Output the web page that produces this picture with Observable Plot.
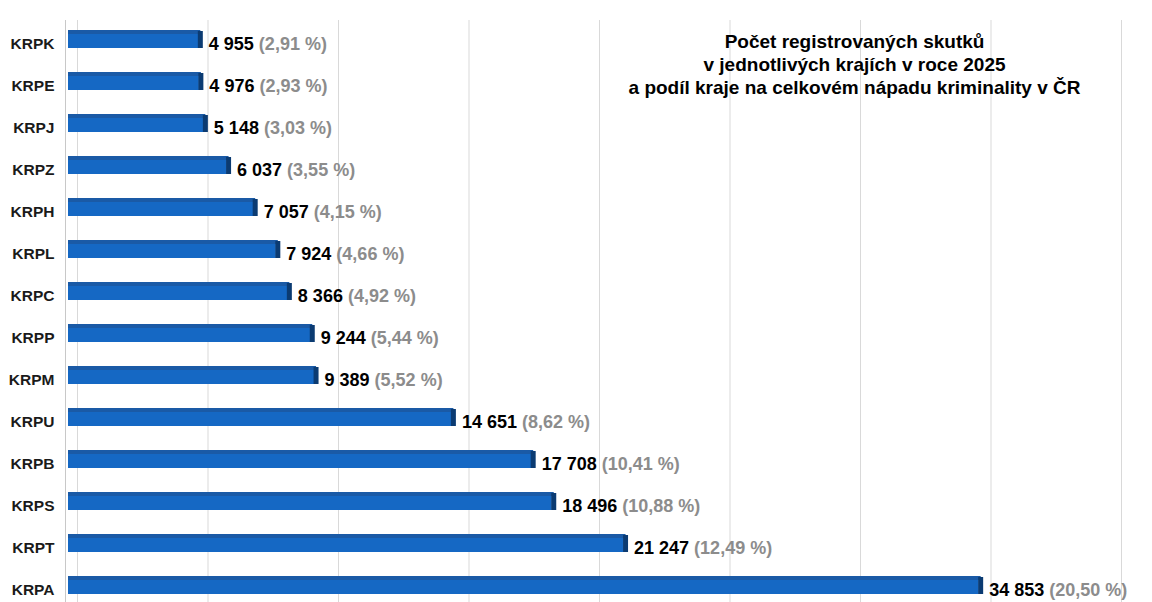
<!DOCTYPE html>
<html><head><meta charset="utf-8">
<script src="https://cdn.jsdelivr.net/npm/d3@7"></script>
<script src="https://cdn.jsdelivr.net/npm/@observablehq/plot@0.6"></script>
<style>body{margin:0;background:#fff;} #chart svg{display:block;}</style>
</head><body><div id="chart"></div>
<script>
const regions = ["KRPK","KRPE","KRPJ","KRPZ","KRPH","KRPL","KRPC","KRPP","KRPM","KRPU","KRPB","KRPS","KRPT","KRPA"];
const counts = [4955, 4976, 5148, 6037, 7057, 7924, 8366, 9244, 9389, 14651, 17708, 18496, 21247, 34853];
const shares = [2.91, 2.93, 3.03, 3.55, 4.15, 4.66, 4.92, 5.44, 5.52, 8.62, 10.41, 10.88, 12.49, 20.50];
const gridTicks = [0, 5000, 10000, 15000, 20000, 25000, 30000, 35000, 40000];
const titleLines = ["Počet registrovaných skutků", "v jednotlivých krajích v roce 2025", "a podíl kraje na celkovém nápadu kriminality v ČR"];

const data = regions.map((r, i) => ({region: r, count: counts[i], share: shares[i]}));
const loc = d3.formatLocale({decimal: ",", thousands: " ", grouping: [3], currency: ["", ""]});
const fmtNum = loc.format(",d");
const fmtPct = v => "(" + v.toFixed(2).replace(".", ",") + " %)";

const FRONT = "#1568c4", TOP = "#1a5aa6", SIDE = "#0b3b72";

const plot = Plot.plot({
  width: 1152, height: 602,
  marginTop: 20, marginBottom: 0, marginLeft: 65, marginRight: 31,
  style: {fontFamily: "'Liberation Sans', Arial, sans-serif", background: "#fff"},
  x: {domain: [0, 40000], range: [77, 1121], axis: null},
  y: {domain: regions, range: [23, 611], padding: 0, axis: null},
  marks: [
    Plot.ruleX(gridTicks, {x: d => d, stroke: "#d9d9d9", strokeWidth: 1}),
    Plot.ruleX([0], {dx: -12, stroke: "#c8c8c8", strokeWidth: 1}),
    Plot.barX(data, {x: "count", y: "region", dx: -9, insetTop: 11, insetBottom: 17, insetRight: -1, fill: FRONT}),
    Plot.barX(data, {x: "count", y: "region", dx: -9, insetTop: 7, insetBottom: 31, insetRight: -3, fill: TOP}),
    Plot.tickX(data, {x: "count", y: "region", dx: -6.5, insetTop: 8, insetBottom: 17, stroke: SIDE, strokeWidth: 5}),
    Plot.axisY({tickSize: 0, tickPadding: 11, fontSize: 15.5, fontWeight: "bold", fill: "#1a1a1a", label: null}),
    Plot.text(data, {x: "count", y: "region", text: d => fmtNum(d.count), dx: 2, textAnchor: "start",
      fontSize: 18, fontWeight: "bold", fill: "#000"}),
    Plot.text([titleLines.join("\n")], {frameAnchor: "top-left", dx: 854 - 65, dy: 11, textAnchor: "middle",
      lineAnchor: "top", lineHeight: 1.21, fontSize: 19, fontWeight: "bold", fill: "#000"})
  ]
});

const textGroups = d3.select(plot).selectAll('g[aria-label="text"]').nodes();
d3.select(textGroups[0]).selectAll("text").each(function(_, i) {
  const t = d3.select(this);
  t.text(null);
  t.append("tspan").text(fmtNum(counts[i]));
  t.append("tspan").attr("fill", "#8c8c8c").text(" " + fmtPct(shares[i]));
});

document.getElementById("chart").appendChild(plot);
</script>
</body></html>
